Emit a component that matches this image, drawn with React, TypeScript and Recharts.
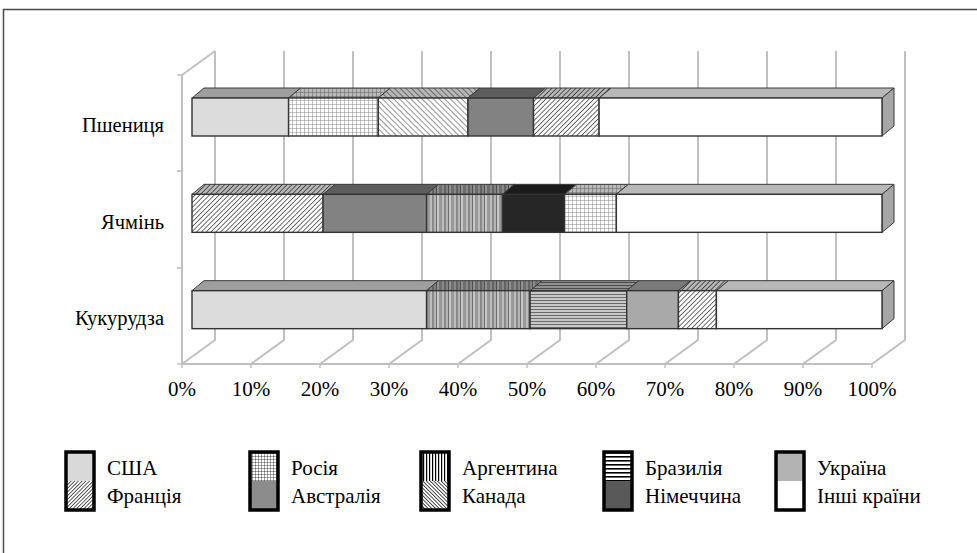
import React from "react";
import { Bar, BarChart, CartesianGrid, XAxis, YAxis } from "recharts";

// shares of world output by crop, % (read left to right along each bar)
const crops = ["Пшениця", "Ячмінь", "Кукурудза"];

const wheatCountries = ["США", "Росія", "Канада", "Австралія", "Франція", "Інші країни"];
const wheatShares = [14, 13, 13, 9.5, 9.5, 41];

const barleyCountries = ["Франція", "Австралія", "Аргентина", "Німеччина", "Росія", "Інші країни"];
const barleyShares = [19, 15, 11, 9, 7.5, 38.5];

const cornCountries = ["США", "Аргентина", "Бразилія", "Україна", "Франція", "Інші країни"];
const cornShares = [34, 15, 14, 7.5, 5.5, 24];

const percentTicks = [0, 10, 20, 30, 40, 50, 60, 70, 80, 90, 100];

const legendTop = ["США", "Росія", "Аргентина", "Бразилія", "Україна"];
const legendBottom = ["Франція", "Австралія", "Канада", "Німеччина", "Інші країни"];

const countriesByCrop = [wheatCountries, barleyCountries, cornCountries];
const sharesByCrop = [wheatShares, barleyShares, cornShares];
const SLOTS = 6;

const rows = crops.map((crop, i) => {
  const row: Record<string, string | number> = { crop };
  sharesByCrop[i].forEach((v, k) => {
    row[`s${k}`] = v;
    row[`c${k}`] = countriesByCrop[i][k];
  });
  return row;
});

const FONT = '"Liberation Serif", "Times New Roman", serif';
const GRID = "#c0c0c0";

// pseudo-3d offsets relative to the plane the bars' front faces sit in
const FRONT_DX = -10;
const FRONT_DY = 6;
const BACK_DX = 23;
const BACK_DY = -18;
const BAR_DX = 12;
const BAR_DY = -10;
const Y_TICK_MARGIN = 28;

const barFill: Record<string, string> = {
  "США": "#dcdcdc",
  "Росія": "url(#b-grid)",
  "Канада": "url(#b-back)",
  "Австралія": "#828282",
  "Франція": "url(#b-fwd)",
  "Аргентина": "url(#b-vert)",
  "Німеччина": "#262626",
  "Бразилія": "url(#b-horz)",
  "Україна": "#a9a9a9",
  "Інші країни": "#ffffff",
};

const legendFill: Record<string, string> = {
  "США": "#d9d9d9",
  "Росія": "url(#lg-grid)",
  "Канада": "url(#lg-back)",
  "Австралія": "#8c8c8c",
  "Франція": "url(#lg-fwd)",
  "Аргентина": "url(#lg-vert)",
  "Німеччина": "#595959",
  "Бразилія": "url(#lg-horz)",
  "Україна": "#b3b3b3",
  "Інші країни": "#ffffff",
};

const legendColumnX = [66, 250, 421, 604, 776];

function segmentShape(slot: number) {
  return (props: any) => {
    const { x, y, width, height, payload } = props;
    if (!(width > 0)) return <g />;
    const fill = barFill[payload[`c${slot}`]];
    const top = `${x},${y} ${x + width},${y} ${x + width + BAR_DX},${y + BAR_DY} ${x + BAR_DX},${y + BAR_DY}`;
    const rx = x + width;
    const side = `${rx},${y} ${rx + BAR_DX},${y + BAR_DY} ${rx + BAR_DX},${y + height + BAR_DY} ${rx},${y + height}`;
    return (
      <g>
        <polygon points={top} fill={fill} />
        <polygon points={top} fill="#000" fillOpacity={0.28} stroke="#3a3a3a" strokeWidth={1} />
        {slot === SLOTS - 1 && (
          <g>
            <polygon points={side} fill={fill} />
            <polygon points={side} fill="#000" fillOpacity={0.35} stroke="#3a3a3a" strokeWidth={1} />
          </g>
        )}
        <rect x={x} y={y} width={width} height={height} fill={fill} stroke="#333" strokeWidth={1.4} />
      </g>
    );
  };
}

const gridLine = (props: any) => {
  const { x1, y1, y2, index } = props;
  const bx = x1 + BACK_DX;
  let d = `M${bx} ${y1 + BACK_DY} V${y2 + BACK_DY} L${x1 + FRONT_DX} ${y2 + FRONT_DY}`;
  if (index === 0) d += ` M${x1 + FRONT_DX} ${y1 + FRONT_DY} L${bx} ${y1 + BACK_DY}`;
  return <path key={`g-${index}`} d={d} stroke={GRID} strokeWidth={2} fill="none" />;
};

const XTick = (props: any) => {
  const { x, y, payload } = props;
  return (
    <text x={x + FRONT_DX} y={y + 32} textAnchor="middle" fontSize={21} fontFamily={FONT} fill="#000">
      {`${payload.value}%`}
    </text>
  );
};

const YTick = (props: any) => {
  const { x, y, payload } = props;
  const half = payload && typeof payload.offset === "number" ? payload.offset : 0;
  const wallX = x + Y_TICK_MARGIN + FRONT_DX;
  return (
    <g>
      <text x={x} y={y + 15} textAnchor="end" fontSize={20.5} fontFamily={FONT} fill="#000">
        {payload.value}
      </text>
      {half > 0 && (
        <path
          d={`M${wallX - 5} ${y - half + FRONT_DY} H${wallX} M${wallX - 5} ${y + half + FRONT_DY} H${wallX}`}
          stroke={GRID}
          strokeWidth={1.5}
        />
      )}
    </g>
  );
};

function Patterns({ prefix, legend }: { prefix: string; legend?: boolean }) {
  const ink = legend ? "#000" : "#4a4a4a";
  return (
    <defs>
      <pattern id={`${prefix}-grid`} width={legend ? 3 : 4} height={legend ? 3 : 4} patternUnits="userSpaceOnUse">
        <rect width={4} height={4} fill="#fff" />
        <path d="M0 0 H4 M0 0 V4" stroke={legend ? "#000" : "#7a7a7a"} strokeWidth={legend ? 0.7 : 0.9} />
      </pattern>
      <pattern id={`${prefix}-back`} width={legend ? 2.6 : 4} height={4} patternUnits="userSpaceOnUse" patternTransform="rotate(-45)">
        <rect width={4} height={4} fill="#fff" />
        <line x1={0} y1={0} x2={0} y2={4} stroke={legend ? "#000" : "#666"} strokeWidth={legend ? 1.4 : 1.4} />
      </pattern>
      <pattern id={`${prefix}-fwd`} width={legend ? 2.6 : 3.4} height={4} patternUnits="userSpaceOnUse" patternTransform="rotate(45)">
        <rect width={4} height={4} fill="#fff" />
        <line x1={0} y1={0} x2={0} y2={4} stroke={ink} strokeWidth={legend ? 1.3 : 1.6} />
      </pattern>
      {legend ? (
        <pattern id={`${prefix}-vert`} width={3} height={4} patternUnits="userSpaceOnUse">
          <rect width={3} height={4} fill="#fff" />
          <rect width={1.2} height={4} fill="#000" />
        </pattern>
      ) : (
        <pattern id={`${prefix}-vert`} width={12} height={4} patternUnits="userSpaceOnUse">
          <rect x={0} width={2} height={4} fill="#8a8a8a" />
          <rect x={2} width={2} height={4} fill="#b5b5b5" />
          <rect x={4} width={1} height={4} fill="#6e6e6e" />
          <rect x={5} width={2} height={4} fill="#c8c8c8" />
          <rect x={7} width={3} height={4} fill="#999" />
          <rect x={10} width={2} height={4} fill="#bdbdbd" />
        </pattern>
      )}
      {legend ? (
        <pattern id={`${prefix}-horz`} width={4} height={4} patternUnits="userSpaceOnUse">
          <rect width={4} height={4} fill="#fff" />
          <rect width={4} height={1.6} fill="#000" />
        </pattern>
      ) : (
        <pattern id={`${prefix}-horz`} width={4} height={3} patternUnits="userSpaceOnUse">
          <rect width={4} height={3} fill="#c8c8c8" />
          <rect width={4} height={1} fill="#6a6a6a" />
        </pattern>
      )}
    </defs>
  );
}

function LegendOverlay() {
  const iconW = 28;
  const iconTop = 452;
  const half = 29;
  return (
    <svg width={977} height={553} style={{ position: "absolute", left: 0, top: 0, pointerEvents: "none" }}>
      <Patterns prefix="lg" legend />
      <path d="M3.5 553 V9.5 H977" stroke="#4a4a4a" strokeWidth={1.5} fill="none" />
      {legendTop.map((name, i) => {
        const lx = legendColumnX[i];
        const other = legendBottom[i];
        return (
          <g key={name}>
            <rect x={lx} y={iconTop} width={iconW} height={half} fill={legendFill[name]} />
            <rect x={lx} y={iconTop + half} width={iconW} height={half} fill={legendFill[other]} />
            <rect x={lx} y={iconTop} width={iconW} height={half * 2} fill="none" stroke="#000" strokeWidth={3.5} />
            <text x={lx + 41} y={475} fontSize={21} fontFamily={FONT} fill="#000">{name}</text>
            <text x={lx + 41} y={503} fontSize={21} fontFamily={FONT} fill="#000">{other}</text>
          </g>
        );
      })}
    </svg>
  );
}

export default function App() {
  const frontShift = `translate(${FRONT_DX} ${FRONT_DY})`;
  return (
    <div style={{ position: "absolute", left: 0, top: 0, width: 977, height: 553, background: "#fff" }}>
      <BarChart
        width={977}
        height={553}
        data={rows}
        layout="vertical"
        margin={{ top: 69, right: 95, bottom: 165, left: 72 }}
        barCategoryGap="30%"
      >
        <Patterns prefix="b" />
        <CartesianGrid horizontal={false} vertical={gridLine} />
        <XAxis
          type="number"
          domain={[0, 100]}
          ticks={percentTicks}
          interval={0}
          height={30}
          tickSize={4}
          tickMargin={2}
          axisLine={{ stroke: GRID, strokeWidth: 2, transform: frontShift }}
          tickLine={{ stroke: GRID, strokeWidth: 1.5, transform: frontShift }}
          tick={<XTick />}
        />
        <YAxis
          type="category"
          dataKey="crop"
          width={120}
          tickLine={false}
          tickSize={0}
          tickMargin={Y_TICK_MARGIN}
          axisLine={{ stroke: GRID, strokeWidth: 2, transform: frontShift }}
          tick={<YTick />}
        />
        {Array.from({ length: SLOTS }, (_, k) => (
          <Bar
            key={k}
            dataKey={`s${k}`}
            stackId="a"
            barSize={38}
            shape={segmentShape(k)}
            isAnimationActive={false}
          />
        ))}
      </BarChart>
      <LegendOverlay />
    </div>
  );
}
